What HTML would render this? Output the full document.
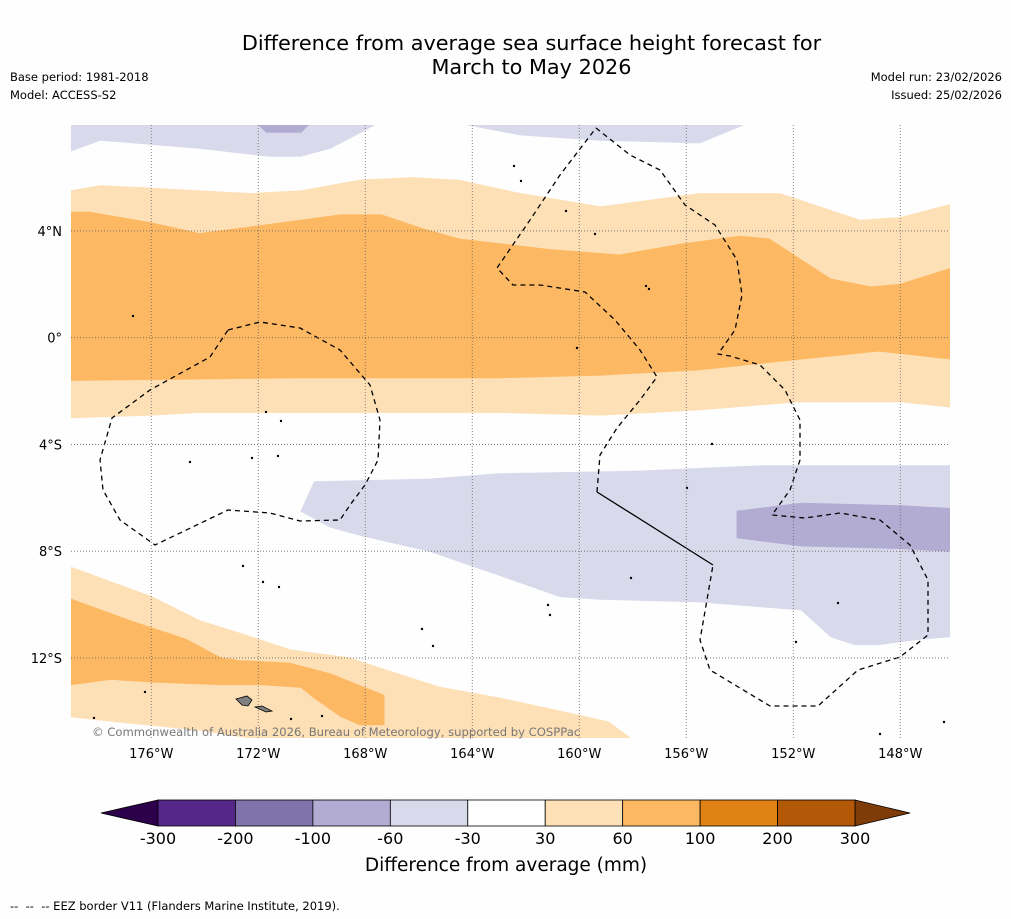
<!DOCTYPE html>
<html><head><meta charset="utf-8"><style>
body{margin:0;background:#fefefe;}
#wrap{position:relative;width:1011px;height:919px;font-family:"DejaVu Sans","Liberation Sans",sans-serif;color:#000;}
.t{position:absolute;white-space:nowrap;}
</style></head><body>
<div id="wrap">
<div class="t" style="left:0;width:1063px;text-align:center;top:31px;font-size:20.8px;line-height:24px;">Difference from average sea surface height forecast for<br>March to May 2026</div>
<div class="t" style="left:10px;top:68px;font-size:11.5px;line-height:18px;">Base period: 1981-2018<br>Model: ACCESS-S2</div>
<div class="t" style="right:9px;top:68px;font-size:11.5px;line-height:18px;text-align:right;">Model run: 23/02/2026<br>Issued: 25/02/2026</div>
<div class="t" style="left:10px;top:899px;font-size:11.5px;">-- &nbsp;-- &nbsp;-- EEZ border V11 (Flanders Marine Institute, 2019).</div>
<svg id="svg" width="1011" height="919" style="position:absolute;left:0;top:0"></svg>
</div>
<script>
const lonTicks=[-176,-172,-168,-164,-160,-156,-152,-148];
const lonLabels=["176°W","172°W","168°W","164°W","160°W","156°W","152°W","148°W"];
const latTicks=[4,0,-4,-8,-12];
const latLabels=["4°N","0°","4°S","8°S","12°S"];
const cbLevels=[-300,-200,-100,-60,-30,30,60,100,200,300];
const cbColors=["#542788","#8073ac","#b2abd2","#d8daeb","#ffffff","#fee0b6","#fdb863","#e08214","#b35806"];
const cbExt=["#2d004b","#7f3b08"];
// contour regions [lon,lat]
const lightUpper=[[-179,5.5],[-177.9,5.7],[-176,5.6],[-172.3,5.4],[-170.4,5.5],[-168.2,5.9],[-166.3,6.0],[-164.5,5.9],[-162.2,5.4],[-159.2,4.9],[-155.5,5.4],[-152.5,5.4],[-149.5,4.4],[-148,4.5],[-146.1,5.0],[-146.1,-2.6],[-148,-2.4],[-151.8,-2.4],[-155.5,-2.7],[-159.2,-2.9],[-163,-2.8],[-170.4,-2.8],[-174.2,-2.8],[-176,-2.9],[-179,-3.0]];
const orangeUpper=[[-179,4.7],[-178.3,4.7],[-176,4.3],[-174.2,3.9],[-170.4,4.4],[-168.9,4.6],[-167.4,4.6],[-165.9,4.1],[-164.5,3.7],[-161.1,3.3],[-158.5,3.1],[-156.2,3.5],[-154,3.8],[-152.9,3.7],[-150.6,2.2],[-149.1,1.9],[-148,2.0],[-146.1,2.6],[-146.1,-0.8],[-148.8,-0.5],[-151.7,-0.8],[-155.5,-1.2],[-159.2,-1.4],[-163,-1.5],[-170.4,-1.5],[-179,-1.6]];
const lavTopLeft=[[-179,8],[-179,7.0],[-177.9,7.4],[-174.2,7.1],[-171.6,6.8],[-170.4,6.8],[-169.3,7.1],[-167.6,8]];
const darkTopLeft=[[-172.0,8],[-170.1,8],[-170.4,7.7],[-171.7,7.7]];
const lavTopRight=[[-164.3,8],[-162.2,7.6],[-159.2,7.4],[-155.5,7.3],[-153.8,8]];
const lavMid=[[-170.4,-6.5],[-169.9,-5.4],[-165.6,-5.3],[-163,-5.1],[-157.7,-5.0],[-153.2,-4.8],[-146.1,-4.8],[-146.1,-11.2],[-147.3,-11.3],[-148.8,-11.5],[-149.7,-11.5],[-150.6,-11.2],[-151.7,-10.2],[-155.5,-9.9],[-159.2,-9.8],[-160.7,-9.7],[-163,-8.9],[-165.6,-8.0],[-168.2,-7.4],[-169.3,-7.1]];
const darkMid=[[-154.1,-6.5],[-151.7,-6.2],[-148,-6.3],[-146.1,-6.4],[-146.1,-8.0],[-148,-7.9],[-151.7,-7.8],[-154.1,-7.5]];
const lightLow=[[-179,-8.6],[-176,-9.7],[-174.2,-10.6],[-172.3,-11.2],[-170.8,-11.7],[-168.6,-12.0],[-167.4,-12.4],[-165.2,-13.1],[-163,-13.5],[-160.7,-14.0],[-158.9,-14.4],[-158.1,-15],[-172.3,-15],[-174.2,-14.7],[-177.2,-14.4],[-179,-14.2]];
const orangeLow=[[-179,-9.8],[-176.8,-10.6],[-174.7,-11.3],[-173.4,-12.0],[-172.7,-12.1],[-170.8,-12.2],[-169.3,-12.6],[-167.3,-13.4],[-167.3,-14.5],[-168.2,-14.5],[-168.9,-14.2],[-169.9,-13.5],[-170.4,-13.1],[-171.9,-13.0],[-173.4,-13.0],[-176,-12.9],[-177.5,-12.8],[-179,-13.0]];

const X0=71,X1=950,Y0=125,Y1=738;
const lonMin=-179,lonMax=-146.14,latMax=7.97,latMin=-15.0;
function px(lon){return X0+(lon-lonMin)/(lonMax-lonMin)*(X1-X0);}
function py(lat){return Y0+(latMax-lat)/(latMax-latMin)*(Y1-Y0);}
const NS="http://www.w3.org/2000/svg";
const svg=document.getElementById('svg');
function mk(tag,attrs,parent){const e=document.createElementNS(NS,tag);for(const k in attrs)e.setAttribute(k,attrs[k]);(parent||svg).appendChild(e);return e;}
const clip=mk('clipPath',{id:'mc'});mk('rect',{x:X0,y:Y0,width:X1-X0,height:Y1-Y0},clip);
const g=mk('g',{'clip-path':'url(#mc)'});


function poly(pts,fill,name){const p=mk('polygon',{points:pts.map(q=>px(q[0]).toFixed(1)+','+py(q[1]).toFixed(1)).join(' '),fill:fill,stroke:fill,'stroke-width':1,'stroke-linejoin':'round'},g);

}
poly(lavTopLeft,cbColors[3],'contour-neg30-top-left');
poly(darkTopLeft,cbColors[2],'contour-neg60-top-left');
poly(lavTopRight,cbColors[3],'contour-neg30-top-right');
poly(lightUpper,cbColors[5],'contour-30-equator');
poly(orangeUpper,cbColors[6],'contour-60-equator');
poly(lavMid,cbColors[3],'contour-neg30-south');
poly(darkMid,cbColors[2],'contour-neg60-south');
poly(lightLow,cbColors[5],'contour-30-southwest');
poly(orangeLow,cbColors[6],'contour-60-southwest');
// gridlines
lonTicks.forEach((l,i)=>{const ln=mk('line',{x1:px(l),x2:px(l),y1:Y0,y2:Y1,stroke:'#666','stroke-width':0.8,'stroke-dasharray':'1,2'});


const t=mk('text',{x:px(l),y:758,'text-anchor':'middle','font-size':13});t.textContent=lonLabels[i];

});
latTicks.forEach((l,i)=>{const ln=mk('line',{x1:X0,x2:X1,y1:py(l),y2:py(l),stroke:'#666','stroke-width':0.8,'stroke-dasharray':'1,2'});


const t=mk('text',{x:62,y:py(l)+5,'text-anchor':'end','font-size':13});t.textContent=latLabels[i];

});
// EEZ borders (basemap)
const eez1="M596,128 L630,155 L660,170 L685,205 L715,225 L737,260 L742,295 L735,330 L718,354 L730,356 L760,365 L785,390 L800,420 L800,460 L790,490 L772,515 L805,518 L840,513 L880,520 L910,545 L928,580 L928,635 L900,657 L858,670 L818,706 L770,706 L710,670 L700,640 L713,565";
const eez2="M597,492 L600,455 L617,428 L640,400 L657,377 L640,350 L615,320 L585,292 L540,285 L513,285 L497,268 L530,220 L560,175 L596,128";
const eez3="M228,330 L260,322 L300,328 L340,350 L370,385 L380,420 L378,460 L365,485 L350,505 L340,520 L300,521 L270,513 L228,510 L155,545 L120,520 L103,490 L100,460 L112,418 L150,390 L210,357 Z";
[eez1,eez2,eez3].forEach(d=>{const p=mk('path',{d:d,fill:'none',stroke:'#000','stroke-width':1.3,'stroke-dasharray':'5,4','stroke-linejoin':'round'},g);

});
const sol=mk('path',{d:'M597,492 L713,565',stroke:'#000','stroke-width':1.3,fill:'none'},g);


// islands
const isl=mk('g',{},g);


mk('path',{d:'M236,699 L247,696 L252,700 L248,706 L242,705 Z',fill:'#808080',stroke:'#000','stroke-width':0.8},isl);
mk('path',{d:'M255,707 L262,706 L272,711 L266,712 Z',fill:'#808080',stroke:'#000','stroke-width':0.8},isl);
[[514,166],[521,181],[566,211],[595,234],[646,286],[649,289],[577,348],[266,412],[281,421],[190,462],[252,458],[278,456],[712,444],[687,488],[631,578],[243,566],[263,582],[279,587],[548,605],[550,615],[838,603],[422,629],[433,646],[796,642],[145,692],[94,718],[291,719],[322,716],[880,734],[944,722],[133,316]].forEach(q=>mk('circle',{cx:q[0],cy:q[1],r:1.2,fill:'#000'},isl));
// copyright
const c=mk('text',{x:92,y:736,'font-size':11.6,fill:'#777'});c.textContent='© Commonwealth of Australia 2026, Bureau of Meteorology, supported by COSPPac';


// colorbar
const CB0=158,CB1=855,CBy=800,CBh=26;const w=(CB1-CB0)/cbColors.length;
const cb=mk('g',{});


mk('polygon',{points:`${CB0},${CBy} 101,${CBy+CBh/2} ${CB0},${CBy+CBh}`,fill:cbExt[0],stroke:'#000','stroke-width':0.8},cb);
mk('polygon',{points:`${CB1},${CBy} 910,${CBy+CBh/2} ${CB1},${CBy+CBh}`,fill:cbExt[1],stroke:'#000','stroke-width':0.8},cb);
cbColors.forEach((col,i)=>{const r=mk('rect',{x:CB0+i*w,y:CBy,width:w,height:CBh,fill:col,stroke:'#000','stroke-width':0.8},cb);

});
cbLevels.forEach((v,i)=>{const t=mk('text',{x:CB0+i*w,y:844,'text-anchor':'middle','font-size':16},cb);t.textContent=v;

});
const ct=mk('text',{x:506,y:871,'text-anchor':'middle','font-size':18.5},cb);ct.textContent='Difference from average (mm)';


</script>
</body></html>
